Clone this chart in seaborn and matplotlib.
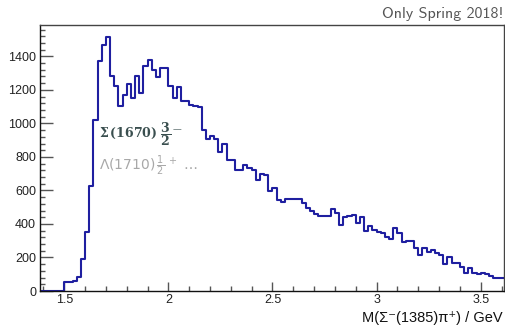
import numpy as np
import pandas as pd
import matplotlib
matplotlib.use('Agg')
import matplotlib.pyplot as plt
import seaborn as sns
from matplotlib.ticker import MultipleLocator, FuncFormatter

# bin edges, 20 MeV bins starting at 1.38 GeV
edges = np.round(1.38 + 0.02 * np.arange(113), 4)
counts = [0, 0, 0, 0, 0, 0,
          56, 56, 62, 82, 189, 350, 629, 1018, 1370, 1466,
          1516, 1281, 1221, 1105, 1171, 1235, 1151, 1285, 1181, 1345,
          1380, 1320, 1277, 1331, 1331, 1221, 1150, 1220, 1131, 1135,
          1110, 1105, 1097, 962, 906, 922, 906, 829, 878, 779,
          779, 719, 719, 749, 733, 723, 663, 699, 695, 594,
          614, 544, 530, 550, 550, 550, 550, 524, 494, 480,
          460, 450, 450, 450, 488, 464, 394, 444, 448, 454,
          408, 444, 358, 388, 364, 354, 349, 325, 309, 374,
          345, 291, 301, 301, 255, 215, 255, 231, 245, 225,
          215, 159, 205, 165, 165, 145, 106, 135, 106, 102,
          110, 102, 90, 76, 76, 76]

title = 'Only Spring 2018!'
xlabel = 'M(Σ⁻(1385)π⁺) / GeV'
label_sigma = r'$\mathbf{\Sigma\,(1670)}\ \mathbf{\dfrac{3}{2}}^{\,\mathbf{—}}$'
label_lambda = r'$\Lambda(1710)\,\frac{1}{2}^{\,+}\ \ldots$'

df = pd.DataFrame({'m': (edges[:-1] + edges[1:]) / 2, 'n': counts})

sns.set_theme(style='ticks')
plt.rcParams['font.family'] = ['Liberation Sans', 'DejaVu Sans']

fig = plt.figure(figsize=(5.05, 3.27), dpi=100)
ax = fig.add_axes([40.3 / 505, 1 - 291 / 327, (504 - 40.3) / 505, (291 - 24.5) / 327])

sns.histplot(data=df, x='m', weights='n', bins=list(edges), element='step', fill=False,
             color='#1f1fa0', linewidth=1.5, ax=ax)

ax.set_xlim(1.385, 3.612)
ax.set_ylim(0, 1590)
ax.set_xlabel('')
ax.set_ylabel('')

ax.xaxis.set_major_locator(MultipleLocator(0.5))
ax.xaxis.set_minor_locator(MultipleLocator(0.1))
ax.yaxis.set_major_locator(MultipleLocator(200))
ax.yaxis.set_minor_locator(MultipleLocator(40))
ax.xaxis.set_major_formatter(FuncFormatter(lambda v, p: '%g' % v))

ax.tick_params(axis='x', which='major', direction='in', length=6.5, width=1.0,
               color='#555555', labelsize=9, labelcolor='#222222', pad=2)
ax.tick_params(axis='x', which='minor', direction='in', length=3.4, width=1.0, color='#555555')
ax.tick_params(axis='y', which='major', direction='in', length=9, width=1.0,
               color='#555555', labelsize=9, labelcolor='#222222', pad=3)
ax.tick_params(axis='y', which='minor', direction='in', length=3.8, width=1.0, color='#555555')

for s in ['left', 'bottom']:
    ax.spines[s].set_color('#111111')
    ax.spines[s].set_linewidth(1.0)
for s in ['top', 'right']:
    ax.spines[s].set_visible(True)
    ax.spines[s].set_color('#444444')
    ax.spines[s].set_linewidth(1.0)

ax.text(1.667, 935, label_sigma, fontsize=9, color='#3a4f4f', va='center',
        math_fontfamily='dejavuserif')
ax.text(1.667, 748, label_lambda, fontsize=10, color='#a8a8a8', va='center',
        math_fontfamily='dejavusans')

fig.text(503 / 505, 1 - 14 / 327, title, ha='right', va='center', fontsize=11.5,
         color='#555555', family='cmss10')
fig.text(503 / 505, 1 - 318 / 327, xlabel, ha='right', va='center', fontsize=10.5,
         color='#111111')

fig.savefig('out.png', dpi=100)
